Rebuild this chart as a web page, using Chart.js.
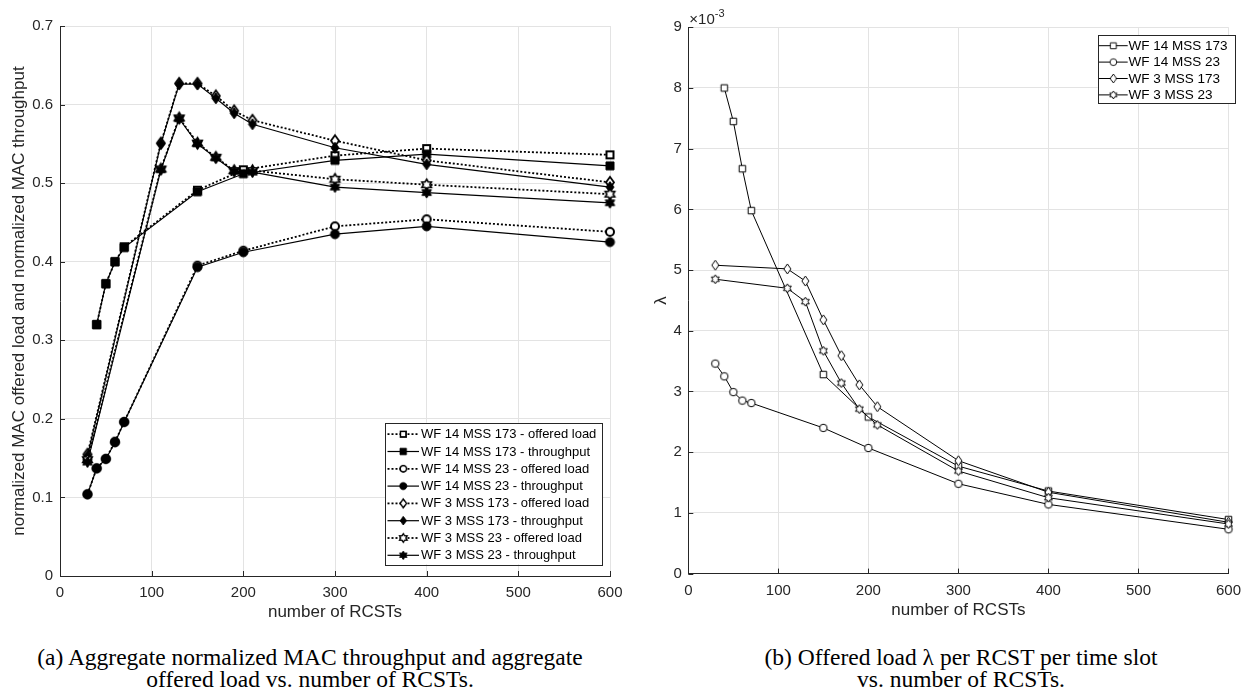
<!DOCTYPE html>
<html>
<head>
<meta charset="utf-8">
<script src="https://cdn.jsdelivr.net/npm/chart.js@4.4.0/dist/chart.umd.min.js"></script>
<style>
html,body{margin:0;padding:0;background:#fff;width:1249px;height:696px;overflow:hidden;}
#wrapA{position:absolute;left:0;top:0;width:640px;height:630px;}
#wrapB{position:absolute;left:640px;top:0;width:609px;height:630px;}
.cap{position:absolute;font-family:"Liberation Serif","Times New Roman",serif;font-size:23.5px;color:#000;text-align:center;line-height:22px;white-space:nowrap;}
</style>
</head>
<body>
<div id="wrapA"><canvas id="cA" width="640" height="630"></canvas></div>
<div id="wrapB"><canvas id="cB" width="609" height="630"></canvas></div>
<div class="cap" id="capA" style="left:10px;top:646px;width:600px;">(a) Aggregate normalized MAC throughput and aggregate<br>offered load vs. number of RCSTs.</div>
<div class="cap" id="capB" style="left:661px;top:646px;width:600px;">(b) Offered load λ per RCST per time slot<br>vs. number of RCSTs.</div>
<script>
// ---------- data ----------
const rcstWF14_173 = [40, 50, 60, 70, 150, 200, 300, 400, 600];
const rcstWF14_23  = [30, 40, 50, 60, 70, 150, 200, 300, 400, 600];
const rcstWF3      = [30, 110, 130, 150, 170, 190, 210, 300, 400, 600];

const offeredWF14_173 = [0.320, 0.372, 0.400, 0.419, 0.491, 0.517, 0.535, 0.544, 0.536];
const thrWF14_173     = [0.320, 0.372, 0.400, 0.418, 0.489, 0.512, 0.529, 0.537, 0.522];
const offeredWF14_23  = [0.104, 0.137, 0.149, 0.171, 0.196, 0.395, 0.414, 0.445, 0.454, 0.438];
const thrWF14_23      = [0.104, 0.137, 0.149, 0.170, 0.196, 0.393, 0.412, 0.435, 0.445, 0.425];
const offeredWF3_173  = [0.155, 0.551, 0.627, 0.627, 0.611, 0.592, 0.580, 0.554, 0.529, 0.501];
const thrWF3_173      = [0.153, 0.550, 0.626, 0.626, 0.608, 0.589, 0.575, 0.545, 0.524, 0.495];
const offeredWF3_23   = [0.148, 0.518, 0.583, 0.551, 0.533, 0.516, 0.516, 0.505, 0.498, 0.486];
const thrWF3_23       = [0.145, 0.517, 0.582, 0.550, 0.532, 0.515, 0.514, 0.495, 0.488, 0.475];

const lambdaWF14_173 = [0.00800, 0.00745, 0.00667, 0.00598, 0.00328, 0.00258, 0.00177, 0.00136, 0.00089];
const lambdaWF14_23  = [0.00346, 0.00325, 0.00299, 0.00285, 0.00281, 0.00240, 0.00207, 0.00148, 0.00114, 0.00073];
const lambdaWF3_173  = [0.00508, 0.00502, 0.00482, 0.00418, 0.00359, 0.00311, 0.00275, 0.00186, 0.00134, 0.000845];
const lambdaWF3_23   = [0.00485, 0.00470, 0.00448, 0.00367, 0.00314, 0.00271, 0.00245, 0.00169, 0.00125, 0.000817];

const xTickValues  = [0, 100, 200, 300, 400, 500, 600];
const yTickValuesA = [0, 0.1, 0.2, 0.3, 0.4, 0.5, 0.6, 0.7];
const yTickValuesB = [0, 0.001, 0.002, 0.003, 0.004, 0.005, 0.006, 0.007, 0.008, 0.009];

const labelsA = [
  'WF 14 MSS 173 - offered load', 'WF 14 MSS 173 - throughput',
  'WF 14 MSS 23 - offered load',  'WF 14 MSS 23 - throughput',
  'WF 3 MSS 173 - offered load',  'WF 3 MSS 173 - throughput',
  'WF 3 MSS 23 - offered load',   'WF 3 MSS 23 - throughput'
];
const labelsB = ['WF 14 MSS 173', 'WF 14 MSS 23', 'WF 3 MSS 173', 'WF 3 MSS 23'];
const xTitle = 'number of RCSTs';
const yTitleA = 'normalized MAC offered load and normalized MAC throughput';
const yTitleB = 'λ';

// ---------- helpers ----------
const FONT = '"Liberation Sans", Arial, Helvetica, sans-serif';
const AX = '#262626';
const GRID = '#e3e3e3';

function marker(shape, w, h, filled, lw) {
  const pad = Math.ceil(lw) + 1;
  const c = document.createElement('canvas');
  c.width = Math.ceil(w + 2 * pad); c.height = Math.ceil(h + 2 * pad);
  const g = c.getContext('2d');
  const cx = c.width / 2, cy = c.height / 2;
  g.beginPath();
  if (shape === 'square') g.rect(cx - w / 2, cy - h / 2, w, h);
  else if (shape === 'circle') g.ellipse(cx, cy, w / 2, h / 2, 0, 0, Math.PI * 2);
  else if (shape === 'diamond') { g.moveTo(cx, cy - h / 2); g.lineTo(cx + w / 2, cy); g.lineTo(cx, cy + h / 2); g.lineTo(cx - w / 2, cy); g.closePath(); }
  else if (shape === 'hexagram') {
    const R = w / 2, r = R / Math.sqrt(3);
    for (let k = 0; k < 12; k++) {
      const a = -Math.PI / 2 + k * Math.PI / 6;
      const rr = (k % 2 === 0) ? R : r;
      const px = cx + rr * Math.cos(a), py = cy + rr * Math.sin(a);
      if (k) g.lineTo(px, py); else g.moveTo(px, py);
    }
    g.closePath();
  }
  g.fillStyle = filled ? '#000' : '#fff';
  g.fill();
  g.lineWidth = lw; g.strokeStyle = '#000'; g.lineJoin = 'miter';
  g.stroke();
  return c;
}
function pts(xs, ys) { return xs.map((x, i) => ({x: x, y: ys[i]})); }

const innerTicks = {
  id: 'innerTicks',
  beforeDatasetsDraw(chart) {
    const {ctx, chartArea: a, scales: {x, y}} = chart;
    ctx.save(); ctx.strokeStyle = AX; ctx.lineWidth = 1; ctx.beginPath();
    x.ticks.forEach(t => { const px = Math.round(x.getPixelForValue(t.value)) + 0.5; ctx.moveTo(px, a.bottom); ctx.lineTo(px, a.bottom - 5); });
    y.ticks.forEach(t => { const py = Math.round(y.getPixelForValue(t.value)) + 0.5; ctx.moveTo(a.left, py); ctx.lineTo(a.left + 5, py); });
    ctx.stroke(); ctx.restore();
  }
};

const boxLegend = {
  id: 'boxLegend',
  afterDraw(chart, args, o) {
    if (!o || !o.box) return;
    const ctx = chart.ctx;
    ctx.save();
    ctx.fillStyle = '#fff'; ctx.fillRect(o.box[0], o.box[1], o.box[2], o.box[3]);
    ctx.strokeStyle = AX; ctx.lineWidth = 1;
    ctx.strokeRect(Math.round(o.box[0]) + 0.5, Math.round(o.box[1]) + 0.5, Math.round(o.box[2]), Math.round(o.box[3]));
    chart.data.datasets.forEach((ds, i) => {
      const yy = o.row0 + i * o.rowH;
      ctx.beginPath(); ctx.setLineDash(ds.borderDash || []);
      ctx.lineWidth = ds.borderWidth; ctx.strokeStyle = '#000';
      ctx.moveTo(o.line[0], yy); ctx.lineTo(o.line[1], yy); ctx.stroke();
      ctx.setLineDash([]);
      const m = ds.pointStyle; const s = o.mScale;
      ctx.drawImage(m, (o.line[0] + o.line[1]) / 2 - m.width * s / 2, yy - m.height * s / 2, m.width * s, m.height * s);
      ctx.fillStyle = '#000'; ctx.font = o.font; ctx.textBaseline = 'middle'; ctx.textAlign = 'left';
      ctx.fillText(ds.label, o.textX, yy + 0.5);
    });
    ctx.restore();
  }
};

const exponentLabel = {
  id: 'exponentLabel',
  afterDraw(chart, args, o) {
    if (!o || !o.text) return;
    const {ctx, chartArea: a} = chart;
    ctx.save(); ctx.fillStyle = AX; ctx.textBaseline = 'alphabetic'; ctx.textAlign = 'left';
    ctx.font = '15px ' + FONT;
    ctx.fillText('×10', a.left + 1, a.top - 3);
    const w = ctx.measureText('×10').width;
    ctx.font = '11px ' + FONT;
    ctx.fillText(o.text, a.left + 1 + w, a.top - 10.5);
    ctx.restore();
  }
};

function axisCommon(titleText, titlePad, tickPad, width, height, tickVals, fmt, min, max) {
  return {
    type: 'linear', min: min, max: max,
    grid: {color: GRID, lineWidth: 1, drawTicks: false},
    border: {display: true, color: AX, width: 1},
    ticks: {color: AX, font: {family: FONT, size: 15}, padding: tickPad, autoSkip: false, maxRotation: 0, callback: fmt},
    title: {display: true, text: titleText, color: AX, font: {family: FONT, size: 17}, padding: titlePad},
    afterBuildTicks: s => { s.ticks = tickVals.map(v => ({value: v})); },
    afterFit: s => { if (width !== null) s.width = width; if (height !== null) s.height = height; }
  };
}

// ---------- chart A ----------
const solidA = 1.2, dotA = 1.8;
const mkA = {
  sqO: marker('square', 7, 7, false, 2), sqF: marker('square', 8, 8, true, 1),
  ciO: marker('circle', 8, 8, false, 2), ciF: marker('circle', 9, 9, true, 1),
  diO: marker('diamond', 8, 11, false, 1.8), diF: marker('diamond', 8, 11, true, 1),
  hxO: marker('hexagram', 11, 11, false, 1.6), hxF: marker('hexagram', 11, 11, true, 1)
};
const dsA = [
  [rcstWF14_173, offeredWF14_173, mkA.sqO, true],
  [rcstWF14_173, thrWF14_173, mkA.sqF, false],
  [rcstWF14_23, offeredWF14_23, mkA.ciO, true],
  [rcstWF14_23, thrWF14_23, mkA.ciF, false],
  [rcstWF3, offeredWF3_173, mkA.diO, true],
  [rcstWF3, thrWF3_173, mkA.diF, false],
  [rcstWF3, offeredWF3_23, mkA.hxO, true],
  [rcstWF3, thrWF3_23, mkA.hxF, false]
].map((d, i) => ({
  label: labelsA[i], data: pts(d[0], d[1]),
  borderColor: '#000', borderWidth: d[3] ? dotA : solidA, borderDash: d[3] ? [2, 2] : [],
  pointStyle: d[2], pointRadius: 5, tension: 0, fill: false, clip: false, order: 8 - i
}));

new Chart(document.getElementById('cA'), {
  type: 'line',
  data: {datasets: dsA},
  options: {
    responsive: false, animation: false, devicePixelRatio: 1, events: [],
    layout: {padding: {left: 0, top: 26, right: 30, bottom: 0}},
    scales: {
      x: axisCommon(xTitle, {top: 0, bottom: 7}, 8, null, 54, xTickValues, v => String(v), 0, 600),
      y: axisCommon(yTitleA, {top: 9.5, bottom: 0}, 7, 60, null, yTickValuesA, v => String(Math.round(v * 10) / 10), 0, 0.7)
    },
    plugins: {
      legend: {display: false}, tooltip: {enabled: false},
      boxLegend: {box: [385.3, 422.7, 217.4, 141.6], row0: 434.2, rowH: 17.3, line: [387.5, 419], textX: 421, font: '13px ' + FONT, mScale: 0.8}
    }
  },
  plugins: [innerTicks, boxLegend]
});

// ---------- chart B ----------
const mkB = {
  sq: marker('square', 6.5, 6.5, false, 1), ci: marker('circle', 7.5, 7.5, false, 1),
  di: marker('diamond', 7, 10, false, 1), hx: marker('hexagram', 9, 9, false, 1)
};
const dsB = [
  [rcstWF14_173, lambdaWF14_173, mkB.sq],
  [rcstWF14_23, lambdaWF14_23, mkB.ci],
  [rcstWF3, lambdaWF3_173, mkB.di],
  [rcstWF3, lambdaWF3_23, mkB.hx]
].map((d, i) => ({
  label: labelsB[i], data: pts(d[0], d[1]),
  borderColor: '#000', borderWidth: 1, borderDash: [],
  pointStyle: d[2], pointRadius: 4, tension: 0, fill: false, clip: false, order: 4 - i
}));

new Chart(document.getElementById('cB'), {
  type: 'line',
  data: {datasets: dsB},
  options: {
    responsive: false, animation: false, devicePixelRatio: 1, events: [],
    layout: {padding: {left: 0, top: 27.3, right: 13.5, bottom: 0}},
    scales: {
      x: axisCommon(xTitle, {top: 0, bottom: 9.4}, 8, null, 56.4, xTickValues, v => String(v), 0, 600),
      y: axisCommon(yTitleB, {top: 11.5, bottom: 0}, 6.5, 48.3, null, yTickValuesB, v => String(Math.round(v * 1000)), 0, 0.009)
    },
    plugins: {
      legend: {display: false}, tooltip: {enabled: false},
      boxLegend: {box: [457.7, 35, 136.6, 68.3], row0: 45.7, rowH: 16.4, line: [459, 487.7], textX: 488.5, font: '13.5px ' + FONT, mScale: 0.9},
      exponentLabel: {text: '-3'}
    }
  },
  plugins: [innerTicks, boxLegend, exponentLabel]
});
</script>
</body>
</html>
